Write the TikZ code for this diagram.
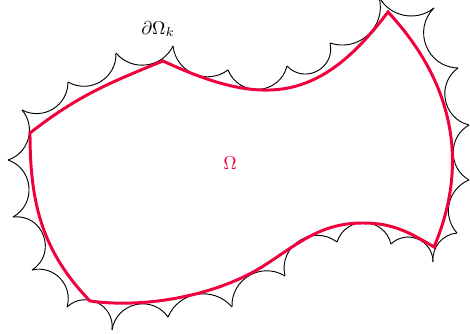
\documentclass[tikz,border=0pt]{standalone}
\definecolor{omred}{RGB}{240,0,60}
\tikzset{
  scallop/.style={black, line width=0.5pt},
  bdry/.style={omred, line width=1.6pt, line join=miter},
  lbl/.style={inner sep=0pt}
}
\newcommand{\scal}[3]{\pgfmathsetmacro\sclo{0.8514/(cos(#3/2)^2)}\draw[scallop] (#1) to[bend right=#3, looseness=\sclo] (#2);}
\begin{document}
\begin{tikzpicture}[x=0.54pt,y=0.54pt]
\useasboundingbox (0,0) rectangle (470,-334);
% cusps of the scalloped boundary
\coordinate (c1) at (379,3);
\coordinate (c2) at (434,-8);
\coordinate (c3) at (458,-68);
\coordinate (c4) at (469,-125);
\coordinate (c5) at (469,-180);
\coordinate (c6) at (457,-233);
\coordinate (c7) at (433,-262);
\coordinate (c8) at (391,-244);
\coordinate (c9) at (337,-242);
\coordinate (c10) at (285,-276);
\coordinate (c11) at (232,-307);
\coordinate (c12) at (168,-317);
\coordinate (c13) at (112,-330);
\coordinate (c14) at (67,-307);
\coordinate (c15) at (32,-270);
\coordinate (c16) at (13,-217);
\coordinate (c17) at (8,-160);
\coordinate (c18) at (22,-110);
\coordinate (c19) at (68,-82);
\coordinate (c20) at (116,-53);
\coordinate (c21) at (173,-46);
\coordinate (c22) at (228,-70);
\coordinate (c23) at (287,-66);
\coordinate (c24) at (330,-43);
\scal{c1}{c2}{50}
\scal{c2}{c3}{67}
\scal{c3}{c4}{65}
\scal{c4}{c5}{60}
\scal{c5}{c6}{55}
\scal{c6}{c7}{45}
\scal{c7}{c8}{67}
\scal{c8}{c9}{74}
\scal{c9}{c10}{70}
\scal{c10}{c11}{62}
\scal{c11}{c12}{58}
\scal{c12}{c13}{68}
\scal{c13}{c14}{70}
\scal{c14}{c15}{60}
\scal{c15}{c16}{77}
\scal{c16}{c17}{66}
\scal{c17}{c18}{56}
\scal{c18}{c19}{59}
\scal{c19}{c20}{61}
\scal{c20}{c21}{57}
\scal{c21}{c22}{60}
\scal{c22}{c23}{72}
\scal{c23}{c24}{75}
\scal{c24}{c1}{62}
% corners of Omega
\coordinate (A) at (30,-133);
\coordinate (B) at (163,-61);
\coordinate (C) at (388,-12);
\coordinate (D) at (434,-247);
\coordinate (M1) at (363,-223);
\coordinate (M2) at (265,-265);
\coordinate (E) at (90,-301);
\draw[bdry] (A) to[out=38, in=202] (B)
  to[out=-25, in=233, looseness=1.25] (C)
  to[out=-47, in=67] (D)
  to[out=149, in=0] (M1)
  to[out=180, in=33] (M2)
  to[out=213, in=-8, looseness=0.8] (E)
  to[out=134, in=270] cycle;
\node[lbl] (dlab) at (158,-29) {$\partial\Omega_k$};
\node[lbl, text=omred] (olab) at (230,-163) {$\Omega$};
\end{tikzpicture}
\end{document}
